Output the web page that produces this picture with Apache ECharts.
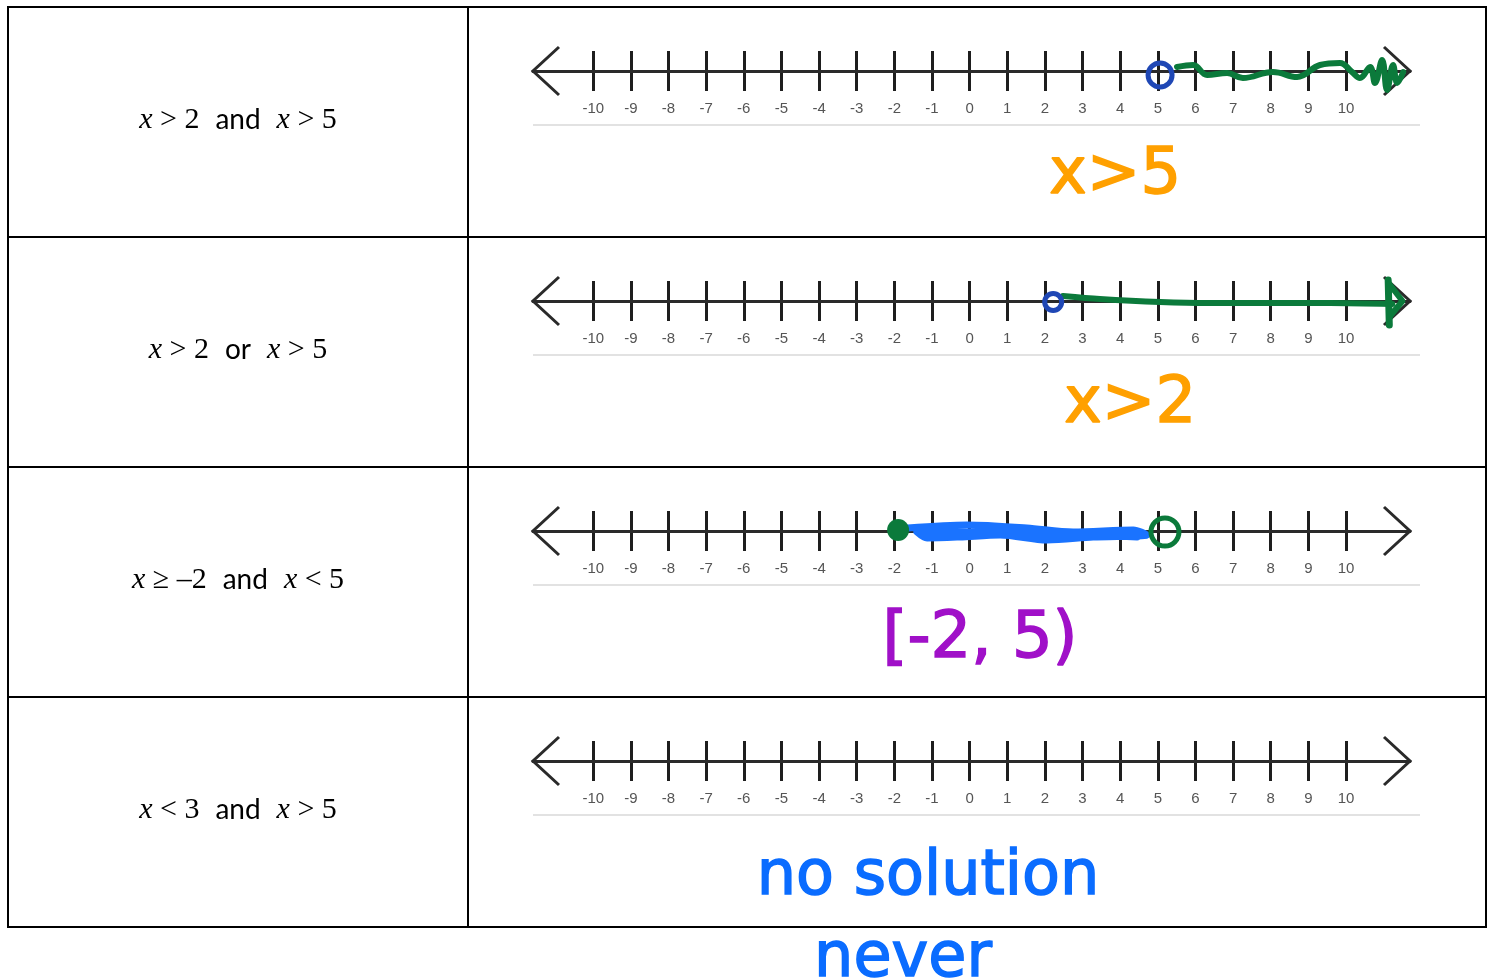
<!DOCTYPE html>
<html><head><meta charset="utf-8">
<script src="https://cdn.jsdelivr.net/npm/echarts@6/dist/echarts.min.js"></script>
<style>html,body{margin:0;padding:0;background:#fff}#c{width:1493px;height:979px}</style>
</head><body><div id="c"></div>
<script>
// ---- data ----
const TICK_VALUES = [-10,-9,-8,-7,-6,-5,-4,-3,-2,-1,0,1,2,3,4,5,6,7,8,9,10];
const AXIS_MIN = -11.6, AXIS_MAX = 11.7;
const LEFT_LABELS = [
  '{i|x}{s| > 2}{a|and}{i|x}{s| > 5}',
  '{i|x}{s| > 2}{a|or}{i|x}{s| > 5}',
  '{i|x}{s| ≥ –2}{a|and}{i|x}{s| < 5}',
  '{i|x}{s| < 3}{a|and}{i|x}{s| > 5}'
];
const ANNOTATIONS = ['x>5', 'x>2', '[-2, 5)', 'no solution'];
const EXTRA_NOTE = 'never';
// row 1 : x > 5
const OPEN_CIRCLE_1 = [[5.06, -0.2]];
const GREEN_WAVE_1 = [[5.51,0.2],[5.94,0.3],[6.31,-0.2],[6.84,-0.1],[7.26,-0.35],[8.06,-0.05],[8.70,-0.3],[9.31,0.3],[9.84,0.4],[10.16,-0.05],[10.37,-0.35],[10.64,0.2],[10.77,-0.6],[10.96,0.55],[11.09,-0.95],[11.25,0.3],[11.36,-0.6],[11.52,-0.05]];
// row 2 : x > 2
const OPEN_CIRCLE_2 = [[2.22, -0.05]];
const GREEN_LINE_2 = [[2.48,0.25],[3.46,0.1],[5.06,-0.05],[6.39,-0.1],[7.98,-0.1],[9.58,-0.1],[11.23,-0.15]];
const GREEN_BAR_2 = [[11.12,1.05],[11.15,-1.2]];
const GREEN_HEAD_2 = [[11.15,0.85],[11.5,0.0],[11.15,-0.8]];
// row 3 : [-2, 5)
const FILLED_DOT_3 = [[-1.90, 0.05]];
const OPEN_CIRCLE_3 = [[5.19, -0.05]];
const BLUE_SCRIBBLE_3 = [[-1.64,0.15],[-0.07,0.3],[1.52,0.15],[2.75,-0.05],[4.35,0.05],[4.71,-0.2],[3.28,-0.3],[2.06,-0.45],[0.81,-0.2],[-0.26,-0.3],[-1.13,-0.35],[-1.40,-0.05],[-0.26,-0.05],[2.06,-0.1],[4.45,-0.3]];
const ARROW_ENDS = [[AXIS_MIN, 1], [AXIS_MAX, -1]];

// ---- layout ----
const LINE_Y = [71, 301, 531, 761];
const ROW_TOP = [7, 237, 467, 697];
const ROW_H = 230;
const GRID_LEFT = 533, GRID_W = 877;
const TABLE_L = 8, TABLE_R = 1486, COL_X = 468, TABLE_B = 927;

const GREEN = '#0b7a3b', DKBLUE = '#1f47b5', BLUE = '#1a73ff', ORANGE = '#ffa000', PURPLE = '#a010c8', INKBLUE = '#0a6cff';

const grids = [], xAxes = [], yAxes = [], series = [];
LINE_Y.forEach((ly, i) => {
  grids.push({left: GRID_LEFT, width: GRID_W, top: ly - 20, height: 40});
  xAxes.push({
    type: 'value', gridIndex: i, min: AXIS_MIN, max: AXIS_MAX,
    axisLine: {show: true, onZero: true, lineStyle: {color: '#2a2a2a', width: 3}},
    axisTick: {show: false, customValues: TICK_VALUES},
    splitLine: {show: true, lineStyle: {color: '#1e1e1e', width: 3}},
    axisLabel: {customValues: TICK_VALUES, color: '#555', fontSize: 15, margin: 10, fontFamily: 'Liberation Sans'}
  });
  yAxes.push({type: 'value', gridIndex: i, min: -1, max: 1, show: false, splitLine: {show: false}});
  series.push({
    type: 'custom', xAxisIndex: i, yAxisIndex: i, data: ARROW_ENDS, silent: true, clip: false,
    renderItem: (params, api) => {
      const p = api.coord([api.value(0), 0]);
      const d = api.value(1);
      return {type: 'polyline', shape: {points: [[p[0] + d * 26, p[1] - 24], [p[0], p[1]], [p[0] + d * 26, p[1] + 24]]},
        style: {stroke: '#2a2a2a', lineWidth: 3, fill: null}};
    }
  });
});

function line(i, data, color, width, smooth) {
  return {type: 'line', xAxisIndex: i, yAxisIndex: i, data, showSymbol: false, clip: false, silent: true, smooth: smooth,
    lineStyle: {color, width, cap: 'round', join: 'round'}, z: 5};
}
function ring(i, data, color, size, width) {
  return {type: 'scatter', xAxisIndex: i, yAxisIndex: i, data, symbolSize: size, clip: false, silent: true,
    itemStyle: {color: 'rgba(0,0,0,0)', borderColor: color, borderWidth: width, opacity: 1}, z: 6};
}
series.push(line(0, GREEN_WAVE_1, GREEN, 6, 0.4));
series.push(ring(0, OPEN_CIRCLE_1, DKBLUE, 24, 5));
series.push(line(1, GREEN_LINE_2, GREEN, 6, 0.3));
series.push(line(1, GREEN_BAR_2, GREEN, 7, false));
series.push(line(1, GREEN_HEAD_2, GREEN, 6, false));
series.push(ring(1, OPEN_CIRCLE_2, DKBLUE, 17, 5));
series.push(line(2, BLUE_SCRIBBLE_3, BLUE, 7, 0.3));
series.push({type: 'scatter', xAxisIndex: 2, yAxisIndex: 2, data: FILLED_DOT_3, symbolSize: 22, clip: false, silent: true,
  itemStyle: {color: GREEN, opacity: 1}, z: 6});
series.push(ring(2, OPEN_CIRCLE_3, GREEN, 28, 5));

// ---- graphics: table, underlines, labels, annotations ----
const graphic = [];
const black = {stroke: '#000', lineWidth: 2};
graphic.push({type: 'rect', shape: {x: TABLE_L, y: ROW_TOP[0], width: TABLE_R - TABLE_L, height: TABLE_B - ROW_TOP[0]}, style: {fill: null, stroke: '#000', lineWidth: 2}});
graphic.push({type: 'line', shape: {x1: COL_X, y1: ROW_TOP[0], x2: COL_X, y2: TABLE_B}, style: black});
ROW_TOP.slice(1).forEach(y => graphic.push({type: 'line', shape: {x1: TABLE_L, y1: y, x2: TABLE_R, y2: y}, style: black}));
LINE_Y.forEach(ly => graphic.push({type: 'line', shape: {x1: 533, y1: ly + 54, x2: 1420, y2: ly + 54}, style: {stroke: '#e2e2e2', lineWidth: 2}}));
LEFT_LABELS.forEach((t, i) => graphic.push({
  type: 'text', x: (TABLE_L + COL_X) / 2, y: ROW_TOP[i] + ROW_H / 2 - 2,
  style: {text: t, align: 'center', verticalAlign: 'middle', fill: '#000',
    rich: {
      i: {fontFamily: 'Liberation Serif', fontStyle: 'italic', fontSize: 30, fill: '#000'},
      s: {fontFamily: 'Liberation Serif', fontSize: 30, fill: '#000'},
      a: {fontFamily: 'Lato', fontSize: 28, fill: '#000', padding: [0, 16, 0, 16]}
    }}
}));
const NOTE_POS = [[1115, 176, ORANGE, 64], [1130, 405, ORANGE, 64], [980, 640, PURPLE, 64], [928, 878, INKBLUE, 62]];
ANNOTATIONS.forEach((t, i) => {
  const [x, y, c, fs] = NOTE_POS[i];
  graphic.push({type: 'text', x, y, style: {text: t, align: 'center', verticalAlign: 'middle', fill: c,
    fontFamily: 'DejaVu Sans', fontWeight: 'normal', fontSize: fs, stroke: c, lineWidth: 1.5}});
});
graphic.push({type: 'text', x: 903, y: 960, style: {text: EXTRA_NOTE, align: 'center', verticalAlign: 'middle', fill: INKBLUE,
  fontFamily: 'DejaVu Sans', fontWeight: 'normal', fontSize: 62, stroke: INKBLUE, lineWidth: 1.5}});

const chart = echarts.init(document.getElementById('c'));
chart.setOption({animation: false, backgroundColor: '#fff', grid: grids, xAxis: xAxes, yAxis: yAxes, series, graphic});
</script></body></html>
